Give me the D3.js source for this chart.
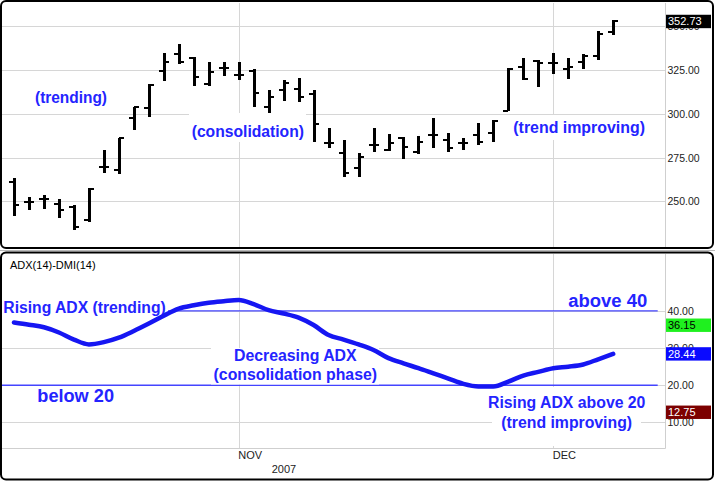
<!DOCTYPE html>
<html><head><meta charset="utf-8">
<script src="https://cdn.jsdelivr.net/npm/d3@7"></script>
<style>
html,body{margin:0;padding:0;background:#fff;}
svg{display:block;font-family:"Liberation Sans",Arial,sans-serif;}
</style></head><body>
<svg id="chart" width="715" height="482"></svg>
<script>
// ---------- DATA ----------
const dates = ["2007-10-11","2007-10-12","2007-10-15","2007-10-16","2007-10-17","2007-10-18","2007-10-19","2007-10-22","2007-10-23","2007-10-24","2007-10-25","2007-10-26","2007-10-29","2007-10-30","2007-10-31",
"2007-11-01","2007-11-02","2007-11-05","2007-11-06","2007-11-07","2007-11-08","2007-11-09","2007-11-12","2007-11-13","2007-11-14","2007-11-15","2007-11-16","2007-11-19","2007-11-20","2007-11-21","2007-11-23","2007-11-26","2007-11-27","2007-11-28","2007-11-29","2007-11-30",
"2007-12-03","2007-12-04","2007-12-05","2007-12-06","2007-12-07"];
const opens  = [261.3,249.9,251.2,248.5,247.0,239.4,269.5,268.0,297.4,303.1,324.4,334.1,331.7,316.8,326.0,322.1,324.4,303.7,313.6,314.0,311.1,283.6,277.5,268.9,282.2,279.3,286.0,278.4,287.9,285.0,283.2,287.9,288.9,301.6,327.0,330.0,329.0,325.4,329.7,333.0,346.9];
const highs  = [263.2,252.7,253.7,251.4,247.9,257.8,279.3,286.4,304.1,317.0,334.9,339.8,332.2,329.7,329.7,329.7,325.4,313.6,319.3,320.3,313.6,291.7,285.0,277.5,292.1,288.3,287.0,287.3,297.8,288.9,286.0,294.6,296.5,326.0,332.0,330.7,334.9,331.7,334.0,347.4,353.5];
const lows   = [241.7,245.1,245.5,240.4,233.7,238.1,266.0,265.5,290.8,298.3,318.7,328.3,315.9,316.0,321.6,319.3,303.7,300.3,307.5,306.9,284.1,280.3,264.1,264.1,278.0,278.8,274.2,276.9,280.3,278.4,279.3,282.2,284.1,301.6,319.3,315.1,322.7,319.7,325.4,330.7,345.0];
const closes = [248.0,249.9,251.2,245.1,235.6,256.9,269.5,286.0,303.7,316.4,329.7,329.4,321.2,323.7,326.0,322.1,312.0,309.8,317.4,309.8,294.2,283.2,266.0,275.5,282.2,283.2,281.2,284.1,287.9,280.3,283.2,283.8,295.9,325.6,320.0,328.8,329.0,327.0,332.9,345.5,352.73];
const adx    = [36.9,36.3,35.6,34.2,32.3,31.0,31.6,32.8,34.6,36.6,38.7,40.6,41.5,42.2,42.6,42.9,41.8,40.2,39.3,38.2,36.2,33.5,32.3,31.0,29.5,27.3,25.9,24.6,23.2,21.8,20.4,19.7,19.7,21.0,22.6,23.6,24.6,25.0,25.6,27.0,28.44];
const priceTicks = [250,275,300,325,350];
const adxTicks = [10,20,30,40];
const adxRefLevels = [40,20];
const lastPrice = 352.73;
const plusDI = 36.15, minusDI = 12.75, lastADX = 28.44;
const monthMarks = [{date:"2007-11-01",label:"NOV"},{date:"2007-12-03",label:"DEC"}];
const yearLabel = "2007";
const indicatorTitle = "ADX(14)-DMI(14)";

// ---------- SETUP ----------
const svg = d3.select("#chart");
const blueText = "#2424ff";
const gridCol = "#d6d6d6";
const plotL = 2, plotR = 665.5;
const topT = 3, topB = 247;
const botT = 254, botB = 448.5;

const x = d3.scaleLinear().domain([0, dates.length-1]).range([14, 613.2]);
const yP = d3.scaleLinear().domain([224, 362.7]).range([247, 4]);
const yA = d3.scaleLinear().domain([3.06, 55.3]).range([448.3, 254]);
const px = v => Math.round(v);
const py = v => Math.round(v) + 0.5;

// panels
svg.append("line").attr("x1",0).attr("x2",715).attr("y1",250.5).attr("y2",250.5).attr("stroke","#b8b8b8");
svg.append("rect").attr("x",1).attr("y",1).attr("width",712).attr("height",247).attr("rx",5)
  .attr("fill","#fff").attr("stroke","#000").attr("stroke-width",2);
svg.append("rect").attr("x",1).attr("y",252.5).attr("width",712).attr("height",227).attr("rx",5)
  .attr("fill","#fff").attr("stroke","#000").attr("stroke-width",2);

// ---------- TOP PANEL ----------
const gTop = svg.append("g");
gTop.selectAll(".hg").data(priceTicks).join("line").attr("class","hg")
  .attr("x1",plotL).attr("x2",plotR).attr("y1",d=>py(yP(d))).attr("y2",d=>py(yP(d)))
  .attr("stroke",gridCol);
gTop.selectAll(".vg").data(monthMarks).join("line").attr("class","vg")
  .attr("x1",d=>px(x(dates.indexOf(d.date)))+0.5).attr("x2",d=>px(x(dates.indexOf(d.date)))+0.5)
  .attr("y1",topT).attr("y2",topB).attr("stroke",gridCol);
gTop.append("line").attr("x1",plotR).attr("x2",plotR).attr("y1",topT).attr("y2",topB).attr("stroke","#cfcfcf");

// price axis
const axP = d3.axisRight(yP).tickValues(priceTicks).tickFormat(d3.format(".2f")).tickSize(0).tickPadding(2);
const gAxP = gTop.append("g").attr("transform",`translate(${plotR},0)`).call(axP);
gAxP.select(".domain").remove();
gAxP.selectAll("text").attr("font-size","10.5px").attr("fill","#222").attr("font-family","Liberation Sans, Arial");

// annotations
function annotate(g, spec){
  if (spec.box){
    g.append("rect").attr("x",spec.box[0]).attr("y",spec.box[1])
      .attr("width",spec.box[2]-spec.box[0]).attr("height",spec.box[3]-spec.box[1]).attr("fill","#fff");
  }
  spec.lines.forEach((t,k)=>{
    g.append("text").attr("x",spec.x).attr("y",spec.baselines[k])
      .attr("text-anchor",spec.anchor||"start")
      .attr("font-size",spec.fs+"px").attr("font-weight","bold").attr("fill",blueText)
      .attr("textLength",spec.widths[k]).attr("lengthAdjust","spacingAndGlyphs")
      .text(t);
  });
}
annotate(gTop,{lines:["(trending)"],x:35,baselines:[102.6],widths:[72],fs:16});
annotate(gTop,{lines:["(consolidation)"],x:191.7,baselines:[136.5],widths:[112.3],fs:16,box:[189,113,306,142]});
annotate(gTop,{lines:["(trend improving)"],x:513.3,baselines:[133.3],widths:[131.7],fs:16,box:[510,115,648,140]});

// OHLC bars
const bars = dates.map((d,i)=>({i,o:opens[i],h:highs[i],l:lows[i],c:closes[i]}));
const gBars = gTop.append("g").attr("fill","#000").attr("shape-rendering","crispEdges");
gBars.selectAll(".hl").data(bars).join("rect").attr("class","hl")
  .attr("x",d=>px(x(d.i))-1).attr("width",3)
  .attr("y",d=>Math.round(yP(d.h))).attr("height",d=>Math.max(2,Math.round(yP(d.l))-Math.round(yP(d.h))));
gBars.selectAll(".op").data(bars).join("rect").attr("class","op")
  .attr("x",d=>px(x(d.i))-5).attr("width",5)
  .attr("y",d=>Math.round(yP(d.o))-1).attr("height",2);
gBars.selectAll(".cl").data(bars).join("rect").attr("class","cl")
  .attr("x",d=>px(x(d.i))).attr("width",5)
  .attr("y",d=>Math.round(yP(d.c))-1).attr("height",2);

// last price box
function valueBox(g, yv, label, bg, fg){
  g.append("rect").attr("x",666).attr("y",yv-6.7).attr("width",45).attr("height",13.4).attr("fill",bg);
  g.append("text").attr("x",668).attr("y",yv).attr("dy","0.36em").attr("font-size","11px")
    .attr("fill",fg).text(label);
}
valueBox(gTop, yP(lastPrice), d3.format(".2f")(lastPrice), "#000", "#fff");

// ---------- BOTTOM PANEL ----------
const gBot = svg.append("g");
gBot.append("text").attr("x",10).attr("y",269).attr("font-size","11px").attr("fill","#000").text(indicatorTitle);
gBot.selectAll(".hg").data(adxTicks).join("line").attr("class","hg")
  .attr("x1",plotL).attr("x2",plotR).attr("y1",d=>py(yA(d))).attr("y2",d=>py(yA(d)))
  .attr("stroke",gridCol);
gBot.selectAll(".vg").data(monthMarks).join("line").attr("class","vg")
  .attr("x1",d=>px(x(dates.indexOf(d.date)))+0.5).attr("x2",d=>px(x(dates.indexOf(d.date)))+0.5)
  .attr("y1",botT).attr("y2",botB).attr("stroke",gridCol);
gBot.append("line").attr("x1",plotR).attr("x2",plotR).attr("y1",botT).attr("y2",botB).attr("stroke","#cfcfcf");
gBot.append("line").attr("x1",plotL).attr("x2",plotR).attr("y1",botB).attr("y2",botB).attr("stroke","#cfcfcf");

// reference levels
gBot.selectAll(".ref").data(adxRefLevels).join("line").attr("class","ref")
  .attr("x1",plotL).attr("x2",657.7).attr("y1",d=>yA(d)).attr("y2",d=>yA(d))
  .attr("stroke","#4444ff").attr("stroke-width",1.4);

// adx axis
const axA = d3.axisRight(yA).tickValues(adxTicks).tickFormat(d3.format(".2f")).tickSize(0).tickPadding(2);
const gAxA = gBot.append("g").attr("transform",`translate(${plotR},0)`).call(axA);
gAxA.select(".domain").remove();
gAxA.selectAll("text").attr("font-size","10.5px").attr("fill","#222").attr("font-family","Liberation Sans, Arial");

// month labels
gBot.selectAll(".ml").data(monthMarks).join("text").attr("class","ml")
  .attr("x",d=>x(dates.indexOf(d.date))-0.5).attr("y",459)
  .attr("font-size","11px").attr("fill","#222").text(d=>d.label);
gBot.append("text").attr("x",x(dates.indexOf(monthMarks[0].date))+33).attr("y",473)
  .attr("font-size","11px").attr("fill","#222").text(yearLabel);

// annotations
annotate(gBot,{lines:["Rising ADX (trending)"],x:3.3,baselines:[313.3],widths:[162.4],fs:16,box:[2,301,168,318]});
annotate(gBot,{lines:["above 40"],x:568.3,baselines:[306.7],widths:[79],fs:17.5});
annotate(gBot,{lines:["Decreasing ADX","(consolidation phase)"],x:295.3,anchor:"middle",baselines:[360.8,380],widths:[122.7,163.4],fs:16,box:[211,348,379,384.5]});
annotate(gBot,{lines:["below 20"],x:37.3,baselines:[401.7],widths:[76.7],fs:17.5});
annotate(gBot,{lines:["Rising ADX above 20","(trend improving)"],x:566.7,anchor:"middle",baselines:[408.2,428.3],widths:[157.4,130.7],fs:16,box:[492,387,641,446]});

// ADX line
const line = d3.line().x((d,i)=>x(i)).y(d=>yA(d)).curve(d3.curveMonotoneX);
gBot.append("path").datum(adx).attr("d",line).attr("fill","none")
  .attr("stroke","#1616f2").attr("stroke-width",4.5).attr("stroke-linejoin","round").attr("stroke-linecap","round");

// value boxes
valueBox(gBot, yA(plusDI), d3.format(".2f")(plusDI), "#1ff01f", "#000");
valueBox(gBot, yA(lastADX), d3.format(".2f")(lastADX), "#0a0aff", "#fff");
valueBox(gBot, yA(minusDI), d3.format(".2f")(minusDI), "#7c0000", "#fff");
</script>
</body></html>
